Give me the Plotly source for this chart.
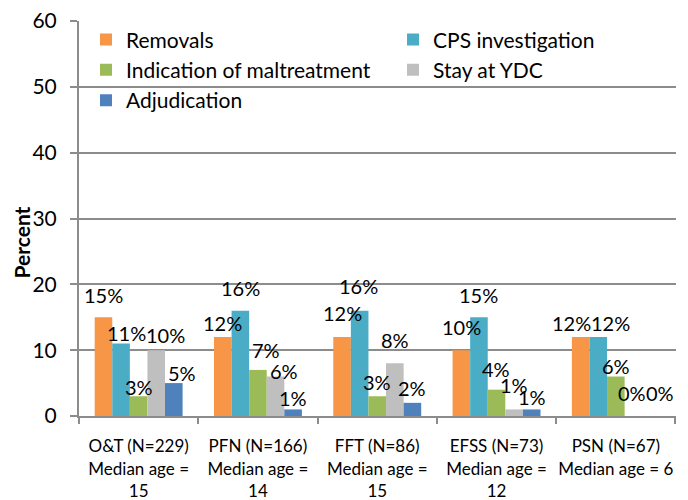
import plotly.graph_objects as go

categories = [
    "O&T (N=229)<br>Median age =<br>15",
    "PFN (N=166)<br>Median age =<br>14",
    "FFT (N=86)<br>Median age =<br>15",
    "EFSS (N=73)<br>Median age =<br>12",
    "PSN (N=67)<br>Median age = 6",
]
removals = [15, 12, 12, 10, 12]
cps_investigation = [11, 16, 16, 15, 12]
maltreatment = [3, 7, 3, 4, 6]
stay_ydc = [10, 6, 8, 1, 0]
adjudication = [5, 1, 2, 1, 0]

series_names = ["Removals", "CPS investigation", "Indication of maltreatment",
                "Stay at YDC", "Adjudication"]
series_values = [removals, cps_investigation, maltreatment, stay_ydc, adjudication]
series_colors = ["#F79646", "#4BACC6", "#9BBB59", "#BFBFBF", "#4F81BD"]
series_legend = ["legend", "legend2", "legend", "legend2", "legend"]

# label nudges (pixels) mimicking the original label placement
label_dx = [
    [0, 0, 0, 0, -9],
    [5, 0, -1, 0, 12],
    [0, 8, 0, -1, 0],
    [9, 8, 0, 0, -1],
    [8, 0, 0, 0, 9],
]
label_dy = [
    [22, 14, 24, 23, 14],
    [11, 23, 25, 22, 14],
    [9, 20, 14, 21, 11],
    [15, 6, 23, 24, 23],
    [10, 11, 15, 12, 23],
]

FONT = "Lato"
BARGAP = 0.263
fig = go.Figure()
for name, vals, color, leg in zip(series_names, series_values, series_colors, series_legend):
    fig.add_trace(go.Bar(
        x=categories, y=vals, name=name, marker_color=color,
        marker_line_width=0, legend=leg, legendgroup=name,
    ))

n = len(series_names)
bw = (1 - BARGAP) / n
for j, vals in enumerate(series_values):
    for i, v in enumerate(vals):
        fig.add_annotation(
            x=i + (j - (n - 1) / 2) * bw, y=v, xref="x", yref="y",
            text=f"{v}%", showarrow=False, xanchor="center", yanchor="middle",
            xshift=label_dx[j][i], yshift=label_dy[j][i],
            font=dict(size=20, family=FONT, color="#000000"),
        )

axis_col = "#8C8C8C"
# the page body adds an 8px margin, so the figure is 8px smaller than the window
fig.update_layout(
    width=680, height=492,
    margin=dict(l=71, r=12, t=11, b=84),
    paper_bgcolor="white", plot_bgcolor="white",
    barmode="group", bargap=BARGAP, bargroupgap=0,
    font=dict(family=FONT, size=19, color="#000000"),
    legend=dict(x=0.0117, y=1.004, xanchor="left", yanchor="top",
                orientation="v", tracegroupgap=0,
                font=dict(size=21, family=FONT), bgcolor="rgba(0,0,0,0)"),
    legend2=dict(x=0.526, y=1.004, xanchor="left", yanchor="top",
                 orientation="v", tracegroupgap=0,
                 font=dict(size=21, family=FONT), bgcolor="rgba(0,0,0,0)"),
    showlegend=True,
)
fig.update_yaxes(
    range=[0, 60], dtick=10, showgrid=True, gridcolor=axis_col, gridwidth=2,
    showline=True, linecolor=axis_col, linewidth=2,
    ticks="outside", ticklen=7, tickcolor=axis_col, tickwidth=2,
    tickfont=dict(size=21, family=FONT), ticklabelstandoff=9,
    ticklabeloverflow="allow",
    zeroline=False, automargin=False,
)
fig.update_xaxes(
    showline=True, linecolor=axis_col, linewidth=2,
    ticks="outside", tickson="boundaries", ticklen=6, tickcolor=axis_col, tickwidth=2,
    tickfont=dict(size=17, family=FONT), tickangle=0, automargin=False,
    ticklabelstandoff=14, ticklabeloverflow="allow",
)
fig.add_annotation(
    text="<b>Percent</b>", xref="paper", yref="paper",
    x=-0.0963, y=0.438, xanchor="center", yanchor="middle",
    textangle=-90, showarrow=False, font=dict(size=21, family=FONT),
)
fig.write_html("out.html")
